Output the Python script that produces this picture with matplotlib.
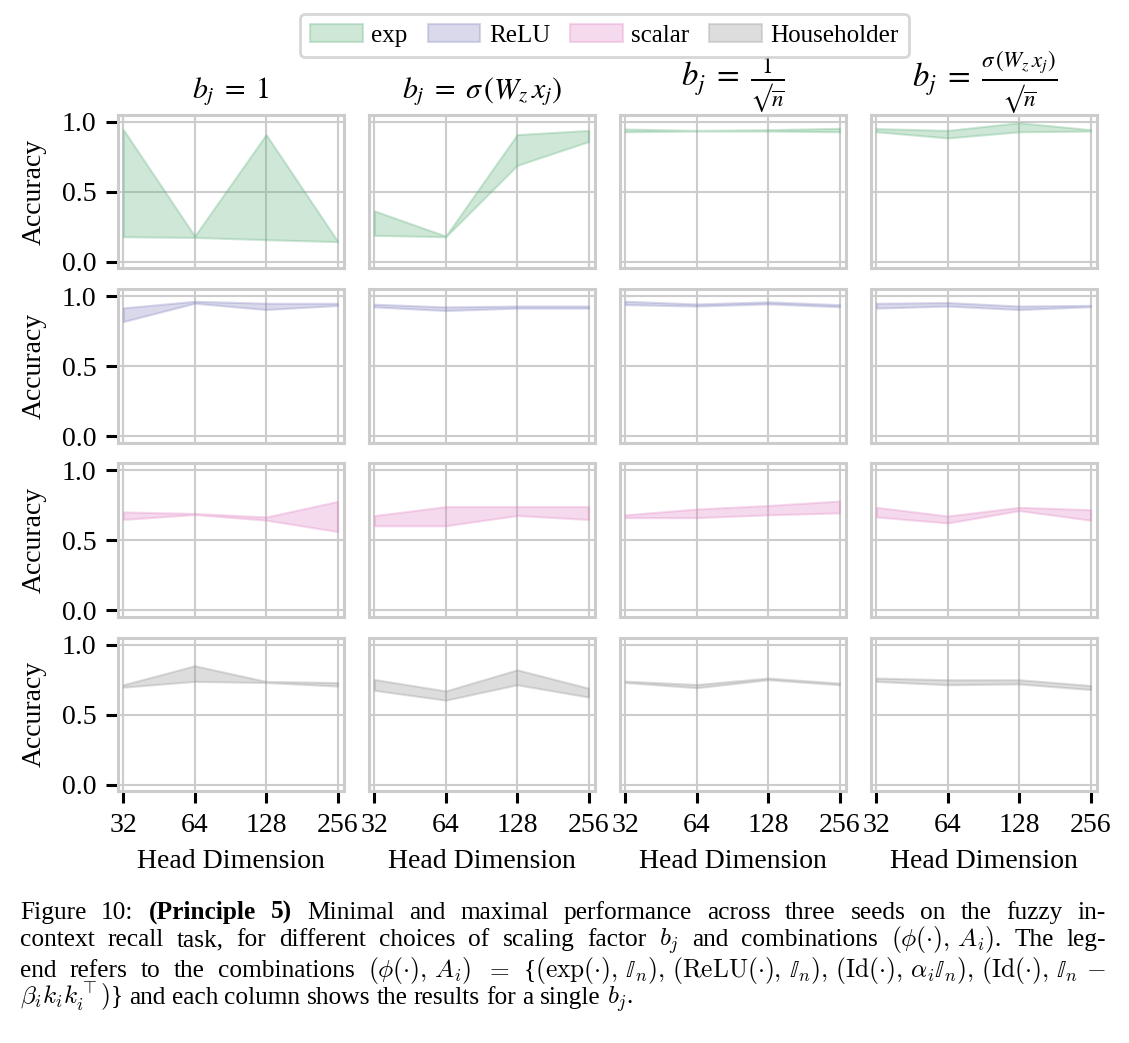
import numpy as np
import matplotlib
matplotlib.use("Agg")
import matplotlib.pyplot as plt
from matplotlib.patches import Patch

plt.rcParams['font.family'] = ['Liberation Serif', 'DejaVu Serif']
plt.rcParams['mathtext.fontset'] = 'stix'

# head dimensions on the x axis
head_dims = [32, 64, 128, 256]
col_titles = [r"$b_j\;=\;1$", r"$b_j\;=\;\sigma\,(W_z\,x_j)$",
              "$b_j\\;=\\;\\frac{1}{\u221a\\overline{n}}$",
              "$b_j\\;=\\;\\frac{\\sigma\\,(W_z\\,x_j)}{\u221a\\overline{n}}$"]
names = ['exp', 'ReLU', 'scalar', 'Householder']
colors = ['#5fb27d', '#8383c0', '#e184c6', '#919191']

# min / max accuracy over three seeds, one list per b_j column
exp_max = [[0.946, 0.185, 0.91, 0.15], [0.365, 0.185, 0.91, 0.94],
           [0.95, 0.94, 0.945, 0.955], [0.953, 0.94, 0.995, 0.945]]
exp_min = [[0.18, 0.175, 0.159, 0.145], [0.19, 0.18, 0.69, 0.86],
           [0.93, 0.935, 0.935, 0.93], [0.93, 0.886, 0.93, 0.935]]
relu_max = [[0.917, 0.964, 0.95, 0.95], [0.943, 0.924, 0.93, 0.93],
            [0.964, 0.945, 0.96, 0.94], [0.95, 0.955, 0.93, 0.935]]
relu_min = [[0.819, 0.95, 0.905, 0.934], [0.924, 0.898, 0.915, 0.915],
            [0.94, 0.93, 0.945, 0.925], [0.915, 0.93, 0.905, 0.925]]
scalar_max = [[0.704, 0.693, 0.668, 0.779], [0.678, 0.742, 0.742, 0.742],
              [0.683, 0.725, 0.75, 0.782], [0.737, 0.675, 0.737, 0.72]]
scalar_min = [[0.65, 0.685, 0.645, 0.564], [0.605, 0.605, 0.678, 0.65],
              [0.663, 0.663, 0.683, 0.697], [0.668, 0.625, 0.713, 0.645]]
house_max = [[0.714, 0.85, 0.738, 0.73], [0.752, 0.67, 0.821, 0.69],
             [0.74, 0.716, 0.762, 0.726], [0.762, 0.75, 0.75, 0.709]]
house_min = [[0.697, 0.738, 0.73, 0.705], [0.674, 0.604, 0.714, 0.626],
             [0.73, 0.693, 0.75, 0.714], [0.738, 0.714, 0.72, 0.68]]

lows = [exp_min, relu_min, scalar_min, house_min]
highs = [exp_max, relu_max, scalar_max, house_max]

caption = [
    r"Figure 10: **(Principle **5) Minimal and maximal performance across three seeds on the fuzzy in-",
    r"context recall task, for different choices of scaling factor $b_j$ and combinations $(\phi(\cdot),\,A_i)$. The leg-",
    r"end refers to the combinations $(\phi(\cdot),\,A_i)$ $=$ {$(\exp(\cdot),\,\mathbb{I}_n),\,(\mathrm{ReLU}(\cdot),\,\mathbb{I}_n),\,(\mathrm{Id}(\cdot),\,\alpha_i\mathbb{I}_n),\,(\mathrm{Id}(\cdot),\,\mathbb{I}_n\,-$",
    r"$\beta_i k_i k_i^{\top})$} and each column shows the results for a single $b_j$.",
]

W, H = 1129, 1043
fig = plt.figure(figsize=(W / 100, H / 100), dpi=100)
fig.subplots_adjust(left=118 / W, right=1097 / W, top=1 - 115 / H, bottom=1 - 791 / H,
                    wspace=0.111, hspace=0.137)
axes = fig.subplots(4, 4)

grid_c = '#cccccc'
for r in range(4):
    for c in range(4):
        ax = axes[r, c]
        ax.fill_between(head_dims, lows[r][c], highs[r][c], color=colors[r], alpha=0.3,
                        linewidth=1.5, label=names[r])
        ax.set_xscale('log', base=2)
        ax.set_xlim(32 / 2 ** 0.075, 256 * 2 ** 0.09)
        ax.set_ylim(-0.045, 1.05)
        ax.set_xticks(head_dims)
        ax.set_xticklabels([str(d) for d in head_dims])
        ax.minorticks_off()
        ax.set_yticks([0.0, 0.5, 1.0])
        ax.set_yticklabels(['0.0', '0.5', '1.0'])
        ax.grid(True, color=grid_c, linewidth=1.5)
        ax.set_axisbelow(True)
        for s in ax.spines.values():
            s.set_color(grid_c)
            s.set_linewidth(2.2)
        ax.tick_params(axis='both', labelsize=20, length=8.5, width=2.2, color='black', pad=7)
        if c == 0:
            ax.set_ylabel('Accuracy', fontsize=20, labelpad=11)
        else:
            ax.tick_params(axis='y', left=False, labelleft=False)
        if r == 3:
            ax.set_xlabel('Head Dimension', fontsize=20, labelpad=8)
        else:
            ax.tick_params(axis='x', bottom=False, labelbottom=False)
        if r == 0:
            if c < 2:
                ax.set_title(col_titles[c], fontsize=21.5, pad=12)
            else:
                ax.set_title(col_titles[c], fontsize=23.5, pad=3)

handles = [Patch(facecolor=colors[i], edgecolor=colors[i], alpha=0.3, linewidth=1.5) for i in range(4)]
leg = fig.legend(handles, names, loc='upper center', bbox_to_anchor=(0.5354, 1 - 14 / H), ncol=4,
                 fontsize=18, handlelength=2.1, handleheight=0.72, columnspacing=0.8,
                 handletextpad=0.35, borderpad=0.4, borderaxespad=0, fancybox=True,
                 edgecolor=grid_c)
leg.get_frame().set_linewidth(2)


def split_tokens(line):
    tokens, cur, in_math = [], '', False
    for ch in line:
        if ch == '$':
            in_math = not in_math
        if ch == ' ' and not in_math:
            if cur:
                tokens.append(cur)
            cur = ''
        else:
            cur += ch
    if cur:
        tokens.append(cur)
    return tokens


# caption, justified like the LaTeX source
renderer = fig.canvas.get_renderer()
cap_fs = 18.3
x_left, x_right = 20, 1106
baselines = [919, 946, 977, 1004]
for li, line in enumerate(caption):
    texts = []
    for tok in split_tokens(line):
        bold = tok.startswith('**')
        tok = tok.lstrip('*')
        texts.append(fig.text(0, 1 - baselines[li] / H, tok, fontsize=cap_fs,
                              fontweight='bold' if bold else 'normal',
                              math_fontfamily='cm', va='baseline', ha='left'))
    widths = [t.get_window_extent(renderer).width for t in texts]
    if li < len(caption) - 1:
        gap = (x_right - x_left - sum(widths)) / (len(texts) - 1)
    else:
        gap = 0.25 * cap_fs * 100 / 72
    x = x_left
    for t, w in zip(texts, widths):
        t.set_x(x / W)
        x += w + gap

fig.savefig('out.png', dpi=100)
